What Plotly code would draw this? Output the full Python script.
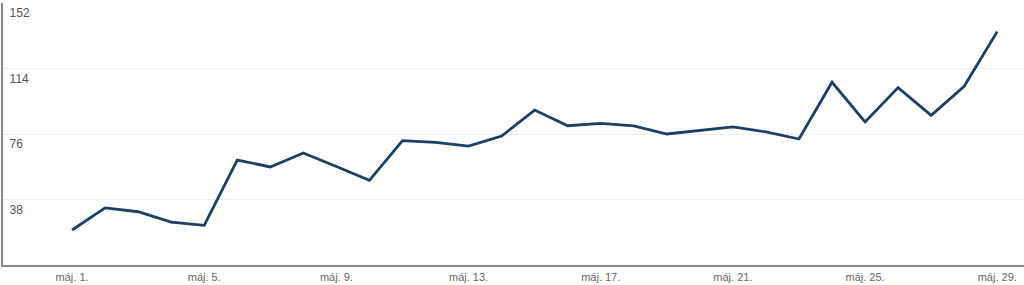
import plotly.graph_objects as go

days = list(range(1, 30))
values = [20.3, 33.1, 30.9, 24.9, 23.0, 60.9, 56.9, 65.0, 57.1, 49.1,
          72.1, 71.1, 69.0, 74.8, 89.9, 80.8, 82.2, 80.7, 76.0, 78.1,
          80.1, 77.2, 73.1, 106.0, 83.0, 102.9, 86.8, 103.7, 135.4]
tick_days = [1, 5, 9, 13, 17, 21, 25, 29]
tick_labels = ["máj. 1.", "máj. 5.", "máj. 9.", "máj. 13.", "máj. 17.", "máj. 21.", "máj. 25.", "máj. 29."]
y_ticks = [38, 76, 114, 152]

fig = go.Figure()
fig.add_trace(go.Scatter(
    x=days, y=values, mode="lines",
    line=dict(color="#1d3f63", width=2.8),
    hoverinfo="skip",
))

fig.update_layout(
    width=1024, height=285,
    margin=dict(l=3, r=0, t=3, b=20),
    paper_bgcolor="white", plot_bgcolor="white",
    showlegend=False,
    font=dict(family="Liberation Sans, Arial, sans-serif", size=11, color="#666666"),
    xaxis=dict(
        range=[-1.09, 29.81],
        tickvals=tick_days, ticktext=tick_labels,
        showgrid=False, zeroline=False,
        showline=True, linecolor="#888888", linewidth=1.5,
        ticks="", tickfont=dict(size=11, color="#666666"),
        ticklabelstandoff=1,
    ),
    yaxis=dict(
        range=[0, 152],
        tickvals=y_ticks,
        showgrid=True, gridcolor="#eeeeee", gridwidth=1,
        zeroline=False,
        showline=True, linecolor="#888888", linewidth=2,
        ticks="", ticklabelposition="inside",
        ticklabelshift=10, ticklabelstandoff=6,
        tickfont=dict(size=12, color="#555555"),
    ),
)

fig.write_html("out.html")
